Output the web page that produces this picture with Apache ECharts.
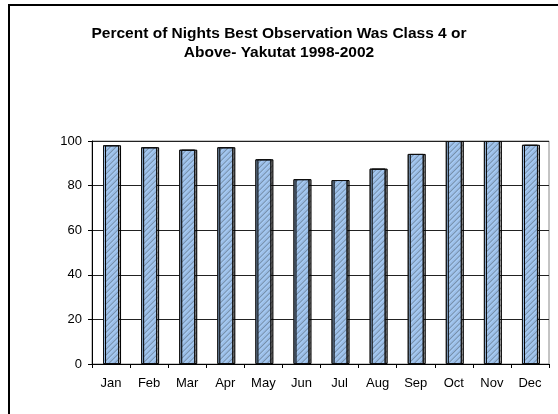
<!DOCTYPE html>
<html>
<head>
<meta charset="utf-8">
<script src="https://cdn.jsdelivr.net/npm/echarts@6/dist/echarts.min.js"></script>
<style>
    html, body { margin: 0; padding: 0; background: #fff; }
    #chart { width: 558px; height: 414px; }
</style>
</head>
<body>
<div id="chart"></div>
<script>
    // 月份
    const months = ['Jan', 'Feb', 'Mar', 'Apr', 'May', 'Jun', 'Jul', 'Aug', 'Sep', 'Oct', 'Nov', 'Dec']
    // 百分比数据
    const percentValues = [98.1, 97.2, 96.1, 97.2, 91.8, 82.9, 82.5, 87.6, 94.2, 100, 100, 98.3]
    // y轴刻度
    const yTicks = [0, 20, 40, 60, 80, 100]

    const chart = echarts.init(document.getElementById('chart'), null, {renderer: 'canvas'})
    const font = 'Arial, "Liberation Sans", sans-serif'

    const option = {
        animation: false,
        backgroundColor: '#fff',
        title: {
            text: 'Percent of Nights Best Observation Was Class 4 or\nAbove- Yakutat 1998-2002',
            left: 'center',
            top: 19,
            textStyle: {
                fontFamily: font,
                fontSize: 15.5,
                fontWeight: 'bold',
                color: '#000',
                lineHeight: 19
            }
        },
        graphic: [
            {
                type: 'rect',
                shape: {x: 9, y: 5, width: 600, height: 500},
                style: {fill: 'none', stroke: '#000', lineWidth: 2},
                silent: true
            }
        ],
        grid: {
            left: 92,
            right: 9,
            top: 141,
            bottom: 50,
            show: true,
            borderColor: '#888',
            borderWidth: 1
        },
        xAxis: {
            type: 'category',
            data: months,
            axisLine: {lineStyle: {color: '#000', width: 1}},
            axisTick: {show: true, inside: false, length: 4, lineStyle: {color: '#000'}},
            axisLabel: {fontFamily: font, fontSize: 13, color: '#000', margin: 13}
        },
        yAxis: {
            type: 'value',
            min: yTicks[0],
            max: yTicks[yTicks.length - 1],
            interval: 20,
            axisLine: {show: true, lineStyle: {color: '#000', width: 1}},
            axisTick: {show: true, length: 4, lineStyle: {color: '#000'}},
            axisLabel: {fontFamily: font, fontSize: 13, color: '#000', margin: 10},
            splitLine: {lineStyle: {color: '#222', width: 1}}
        },
        series: [
            {
                type: 'bar',
                data: percentValues,
                barCategoryGap: '58%',
                itemStyle: {
                    color: '#a6caf2',
                    borderColor: '#111',
                    borderWidth: 1,
                    shadowColor: 'rgba(0,0,0,0.3)',
                    shadowOffsetX: 2,
                    shadowOffsetY: 0,
                    decal: {
                        symbol: 'rect',
                        dashArrayX: [1, 0],
                        dashArrayY: [1, 3],
                        rotation: -Math.PI / 4,
                        color: 'rgba(120,150,200,0.3)'
                    }
                }
            }
        ]
    }
    chart.setOption(option)
</script>
</body>
</html>
